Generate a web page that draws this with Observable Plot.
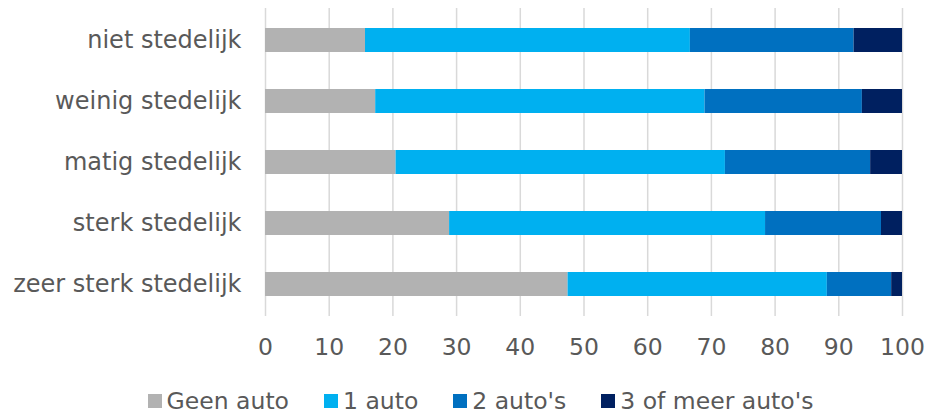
<!DOCTYPE html>
<html>
<head>
<meta charset="utf-8">
<script src="https://cdn.jsdelivr.net/npm/d3@7"></script>
<script src="https://cdn.jsdelivr.net/npm/@observablehq/plot@0.6"></script>
<style>
  body { margin: 0; background: #fff; font-family: "DejaVu Sans", Verdana, sans-serif; }
  #chart svg { display: block; }
  #legend { display: flex; justify-content: center; align-items: center; height: 62px; font-size: 23.5px; color: #595959; padding-left: 34px; }
  .item { display: flex; align-items: center; margin-right: 35px; }
  .item:last-child { margin-right: 0; }
  .sw { width: 14px; height: 14px; margin-right: 5px; }
</style>
</head>
<body>
<div id="chart"></div>
<div id="legend"></div>
<script>
const categories = ["niet stedelijk", "weinig stedelijk", "matig stedelijk", "sterk stedelijk", "zeer sterk stedelijk"];
const series = ["Geen auto", "1 auto", "2 auto's", "3 of meer auto's"];
const geenAuto   = [15.7, 17.3, 20.5, 28.9, 47.5];
const eenAuto    = [51.0, 51.7, 51.7, 49.6, 40.7];
const tweeAutos  = [25.7, 24.7, 22.8, 18.2, 10.1];
const drieOfMeer = [7.6, 6.3, 5.0, 3.3, 1.7];
const xTicks = [0, 10, 20, 30, 40, 50, 60, 70, 80, 90, 100];
const colors = ["#b2b2b2", "#00b0f0", "#0070c0", "#002060"];

const valuesBySeries = [geenAuto, eenAuto, tweeAutos, drieOfMeer];
const data = [];
series.forEach((s, si) => {
  categories.forEach((c, ci) => {
    data.push({category: c, series: s, value: valuesBySeries[si][ci]});
  });
});

const chart = Plot.plot({
  width: 927,
  height: 370,
  marginTop: 8,
  marginBottom: 54,
  marginLeft: 265,
  marginRight: 25,
  style: {fontFamily: "DejaVu Sans, Verdana, sans-serif", fontSize: "23px", color: "#595959", background: "#fff"},
  x: {domain: [0, 100], ticks: xTicks, tickSize: 0, tickPadding: 22, label: null},
  y: {domain: categories, paddingInner: 0.6, paddingOuter: 0.3, tickSize: 0, tickPadding: 24, label: null},
  color: {domain: series, range: colors},
  marks: [
    Plot.ruleX(xTicks, {stroke: "#d9d9d9", strokeWidth: 1.5}),
    Plot.barX(data, {y: "category", x: "value", fill: "series"}),
    Plot.axisY({tickSize: 0, tickPadding: 24, fontSize: 24, label: null}),
    Plot.axisX({ticks: xTicks, tickSize: 0, tickPadding: 22, fontSize: 23.5, label: null})
  ]
});
document.getElementById("chart").appendChild(chart);

const legend = document.getElementById("legend");
series.forEach((s, i) => {
  const item = document.createElement("div");
  item.className = "item";
  const sw = document.createElement("div");
  sw.className = "sw";
  sw.style.background = colors[i];
  const t = document.createElement("span");
  t.textContent = s;
  item.appendChild(sw);
  item.appendChild(t);
  legend.appendChild(item);
});
</script>
</body>
</html>
